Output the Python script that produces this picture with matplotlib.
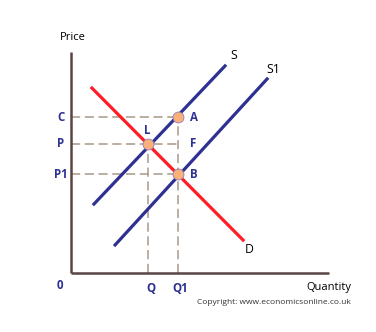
import matplotlib.pyplot as plt

# curve end points (quantity, price)
demand_x = [0.81, 6.67]
demand_y = [8.37, 1.49]
supply_x = [0.89, 5.97]
supply_y = [3.12, 9.37]
supply1_x = [1.71, 7.60]
supply1_y = [1.27, 8.78]

# marked points
pt_names = ['A', 'L', 'B']
pt_x = [4.15, 3.0, 4.15]
pt_y = [7.05, 5.84, 4.46]

price_labels = ['C', 'P', 'P1']
price_vals = [7.05, 5.84, 4.46]
qty_labels = ['Q', 'Q1']
qty_vals = [3.0, 4.15]

blue = '#2e3192'
red = '#ff1d25'
tan = '#a8998a'
brown = '#5b4444'

plt.rcParams['font.family'] = ['Open Sans', 'DejaVu Sans']

fig = plt.figure(figsize=(3.76, 3.32), dpi=100)
ax = fig.add_axes([71 / 376, 59 / 332, 258 / 376, 221 / 332])
ax.set_xlim(0, 10)
ax.set_ylim(0, 10)
ax.axis('off')

# axes drawn as plain lines
ax.plot([0, 0], [0, 10], color=brown, lw=1.8, solid_capstyle='butt', clip_on=False)
ax.plot([0, 10], [0, 0], color=brown, lw=1.8, solid_capstyle='butt', clip_on=False)

# dashed guides
for y in price_vals:
    ax.plot([0, 4.15], [y, y], color=tan, lw=1.1, dashes=(6, 3), zorder=1)
for x, y in zip(qty_vals, [5.84, 7.05]):
    ax.plot([x, x], [0, y], color=tan, lw=1.1, dashes=(6, 3), zorder=1)

ax.plot(supply_x, supply_y, color=blue, lw=2.3, zorder=2)
ax.plot(supply1_x, supply1_y, color=blue, lw=2.3, zorder=2)
ax.plot(demand_x, demand_y, color=red, lw=2.3, zorder=3)

ax.scatter(pt_x, pt_y, s=62, color='#fbb07a', edgecolors='#8b7fc0',
           linewidths=0.6, zorder=5)

lab = dict(color=blue, fontsize=8.3, fontweight='bold', va='center')
ax.text(4.6, 7.05, 'A', ha='left', **lab)
ax.text(4.6, 5.84, 'F', ha='left', **lab)
ax.text(4.6, 4.46, 'B', ha='left', **lab)
ax.text(2.95, 6.45, 'L', ha='center', **lab)
for name, y in zip(price_labels, price_vals):
    ax.text(-0.4, y, name, ha='center', **lab)
for name, x in zip(qty_labels, qty_vals):
    ax.text(x + 0.08, -0.7, name, ha='center', **lab)
ax.text(-0.45, -0.55, '0', ha='center', **lab)

blk = dict(color='black', fontsize=8.8, va='center')
ax.text(6.3, 9.85, 'S', ha='center', **blk)
ax.text(7.85, 9.2, 'S1', ha='center', **blk)
ax.text(6.9, 1.05, 'D', ha='center', **blk)

ax.text(0.08, 10.65, 'Price', ha='center', color='black', fontsize=8, va='center')
ax.text(10.85, -0.65, 'Quantity', ha='right', color='black', fontsize=8, va='center')
ax.text(10.85, -1.35, 'Copyright: www.economicsonline.co.uk', ha='right',
        color='#333333', fontsize=6, va='center')

fig.savefig('out.png', dpi=100)
